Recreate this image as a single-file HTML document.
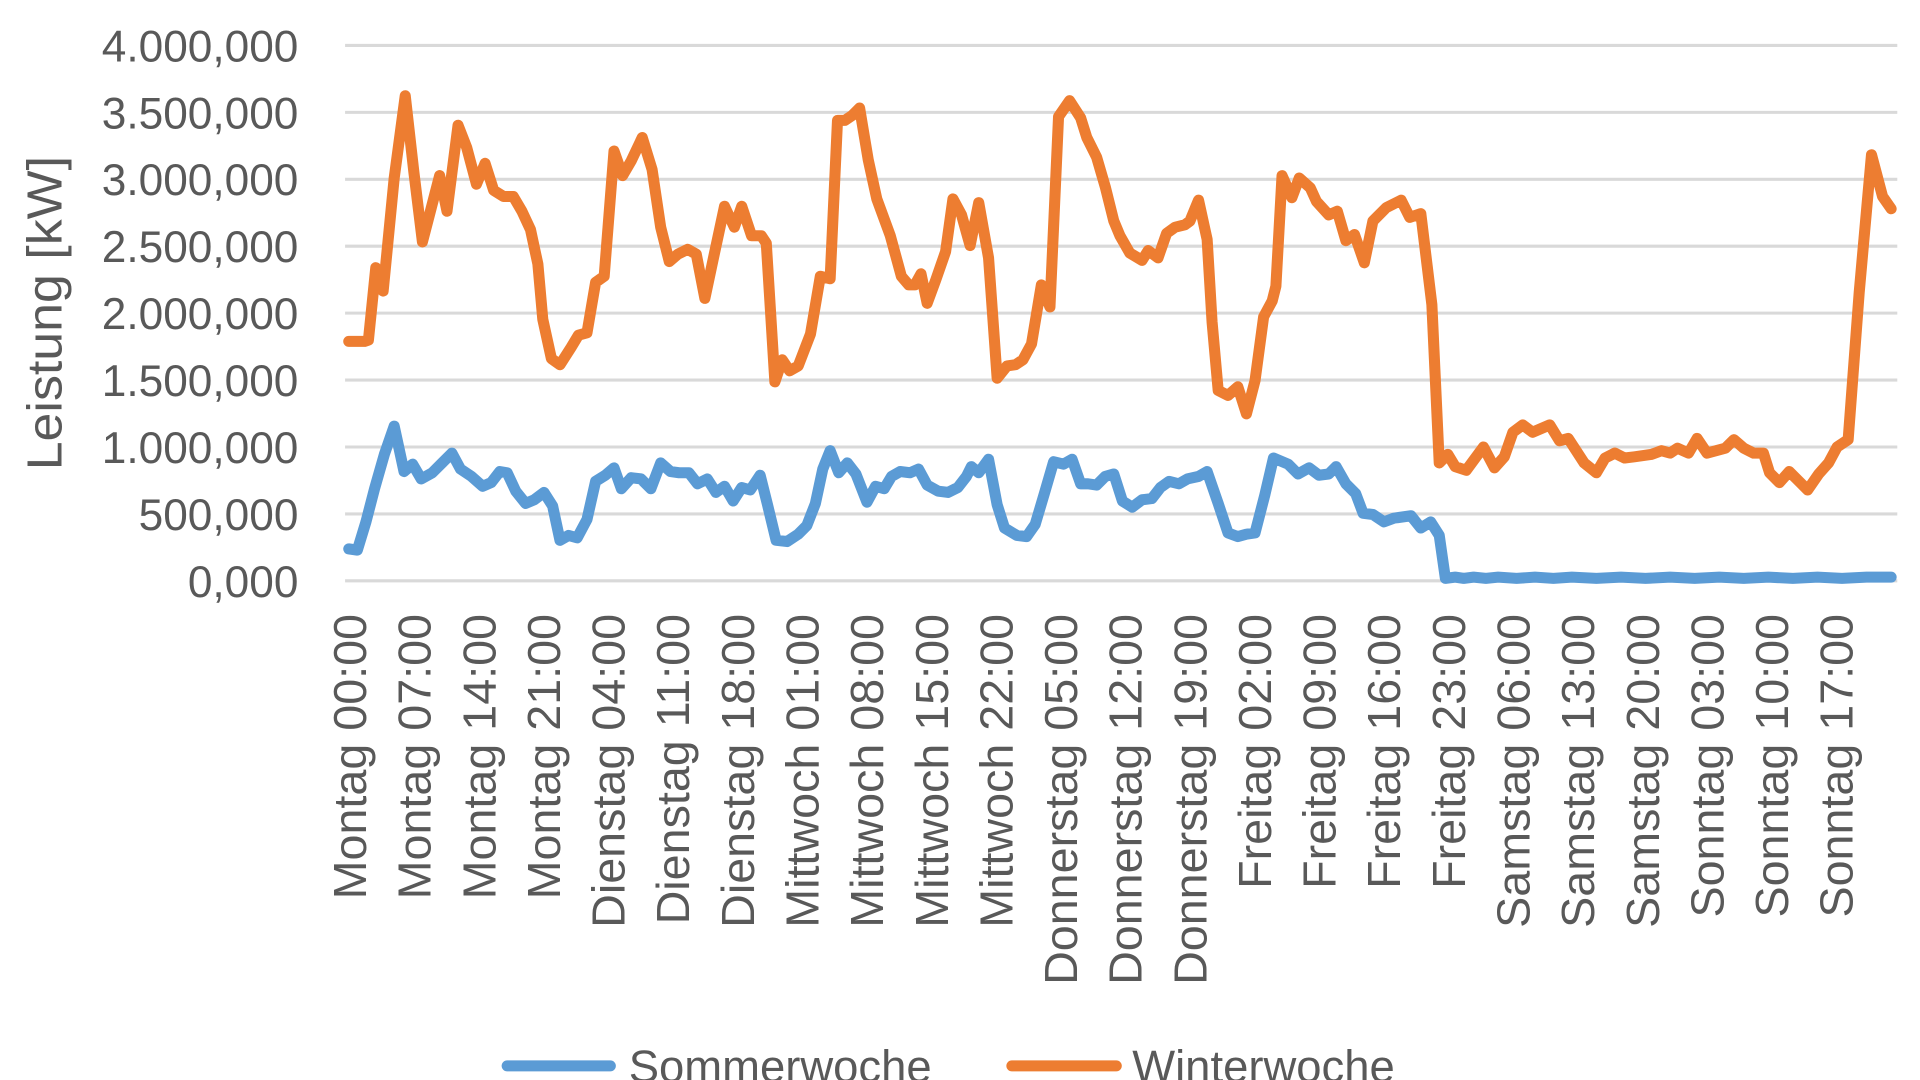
<!DOCTYPE html>
<html><head><meta charset="utf-8"><style>
html,body{margin:0;padding:0;background:#fff;width:1920px;height:1080px;overflow:hidden}
svg{display:block}
text{font-family:"Liberation Sans",sans-serif;fill:#595959}
</style></head><body>
<svg width="1920" height="1080" viewBox="0 0 1563.5 879.5" preserveAspectRatio="none" xmlns="http://www.w3.org/2000/svg">
<g stroke="#d9d9d9" stroke-width="2.5">
<line x1="281" x2="1545" y1="37" y2="37"/><line x1="281" x2="1545" y1="91.5" y2="91.5"/>
<line x1="281" x2="1545" y1="146" y2="146"/><line x1="281" x2="1545" y1="200.5" y2="200.5"/>
<line x1="281" x2="1545" y1="255" y2="255"/><line x1="281" x2="1545" y1="309.5" y2="309.5"/>
<line x1="281" x2="1545" y1="364" y2="364"/><line x1="281" x2="1545" y1="418.5" y2="418.5"/>
<line x1="281" x2="1545" y1="473" y2="473"/>
</g>
<g font-size="36" text-anchor="end">
<text x="243" y="50">4.000,000</text><text x="243" y="104.5">3.500,000</text>
<text x="243" y="159">3.000,000</text><text x="243" y="213.5">2.500,000</text>
<text x="243" y="268">2.000,000</text><text x="243" y="322.5">1.500,000</text>
<text x="243" y="377">1.000,000</text><text x="243" y="431.5">500,000</text>
<text x="243" y="486">0,000</text>
</g>
<text transform="translate(50,255) rotate(-90)" font-size="40" text-anchor="middle" textLength="256" lengthAdjust="spacingAndGlyphs">Leistung [kW]</text>
<g font-size="38" text-anchor="end">
<text transform="translate(298,500) rotate(-90)">Montag 00:00</text>
<text transform="translate(350.6,500) rotate(-90)">Montag 07:00</text>
<text transform="translate(403.3,500) rotate(-90)">Montag 14:00</text>
<text transform="translate(455.9,500) rotate(-90)">Montag 21:00</text>
<text transform="translate(508.6,500) rotate(-90)">Dienstag 04:00</text>
<text transform="translate(561.2,500) rotate(-90)">Dienstag 11:00</text>
<text transform="translate(613.8,500) rotate(-90)">Dienstag 18:00</text>
<text transform="translate(666.5,500) rotate(-90)">Mittwoch 01:00</text>
<text transform="translate(719.1,500) rotate(-90)">Mittwoch 08:00</text>
<text transform="translate(771.8,500) rotate(-90)">Mittwoch 15:00</text>
<text transform="translate(824.4,500) rotate(-90)">Mittwoch 22:00</text>
<text transform="translate(877,500) rotate(-90)">Donnerstag 05:00</text>
<text transform="translate(929.7,500) rotate(-90)">Donnerstag 12:00</text>
<text transform="translate(982.3,500) rotate(-90)">Donnerstag 19:00</text>
<text transform="translate(1035,500) rotate(-90)">Freitag 02:00</text>
<text transform="translate(1087.6,500) rotate(-90)">Freitag 09:00</text>
<text transform="translate(1140.2,500) rotate(-90)">Freitag 16:00</text>
<text transform="translate(1192.9,500) rotate(-90)">Freitag 23:00</text>
<text transform="translate(1245.5,500) rotate(-90)">Samstag 06:00</text>
<text transform="translate(1298.2,500) rotate(-90)">Samstag 13:00</text>
<text transform="translate(1350.8,500) rotate(-90)">Samstag 20:00</text>
<text transform="translate(1403.4,500) rotate(-90)">Sonntag 03:00</text>
<text transform="translate(1456.1,500) rotate(-90)">Sonntag 10:00</text>
<text transform="translate(1508.7,500) rotate(-90)">Sonntag 17:00</text>
</g>
<g fill="none" stroke-width="9" stroke-linejoin="round" stroke-linecap="round">
<polyline stroke="#ed7d31" points="284,278 297,278 300,277 306,218 312,237 321,145 330,78 337,140 344,197 351,170 358,143 364,172 373,102 380,120 388,150 395,133 402,155 410,160 418,160 425,172 432,187 438,215 442,260 449,292 456,297 465,283 471,273 478,271 485,230 492,225 500,123 507,143 514,131 523,112 531,138 538,185 545,213 552,207 560,203 567,207 574,243 581,210 590,168 598,185 604,168 612,192 620,192 624,198 631,311 637,293 643,302 650,298 660,272 668,225 676,227 682,98 688,98 694,94 700,88 707,130 714,162 725,192 734,225 740,232 745,232 750,223 755,247 762,228 770,205 776,162 783,175 790,200 797,165 805,210 812,308 820,298 827,297 833,293 840,280 848,232 855,250 862,95 871,82 880,96 885,112 893,128 900,152 907,180 912,192 920,206 930,212 935,204 943,210 950,190 957,185 965,183 969,180 976,163 983,195 987,262 992,318 1000,322 1008,315 1015,337 1022,310 1029,258 1036,245 1039,233 1044,143 1052,161 1058,145 1067,153 1072,164 1082,175 1089,172 1096,196 1103,191 1111,214 1118,180 1129,169 1141,163 1148,177 1157,174 1166,248 1172,377 1179,370 1185,380 1194,383 1208,364 1217,381 1225,372 1232,352 1240,346 1248,352 1262,346 1270,359 1277,357 1290,377 1300,385 1307,373 1315,369 1323,373 1331,372 1345,370 1353,367 1360,369 1366,365 1375,369 1382,357 1390,369 1405,365 1412,358 1420,365 1428,369 1436,369 1441,385 1449,393 1457,384 1464,391 1472,399 1481,386 1489,377 1496,364 1505,358 1514,238 1524,126 1533,160 1540,170"/>
<polyline stroke="#5b9bd5" points="284,447 291,448 298,425 305,398 313,370 321,347 329,384 336,378 343,390 352,385 360,377 368,369 375,382 384,388 393,396 400,393 407,384 413,385 420,400 428,410 435,407 443,401 450,412 456,440 463,436 470,438 478,423 485,392 493,387 500,381 506,398 514,389 522,390 530,398 538,377 546,384 553,385 561,385 568,394 576,390 583,401 590,396 597,408 604,397 611,399 619,387 625,411 632,440 641,441 650,435 657,428 664,410 670,382 676,367 683,385 690,377 697,386 706,409 713,396 720,398 726,388 733,384 741,385 748,382 755,395 764,400 772,401 780,397 787,388 791,380 797,385 805,374 812,411 818,430 828,436 836,437 843,427 851,400 858,376 866,378 873,374 880,394 886,394 893,395 900,388 907,386 914,408 922,413 930,407 938,406 945,397 952,392 960,394 967,390 976,388 983,384 992,410 1000,434 1008,437 1015,435 1022,434 1030,403 1037,373 1049,378 1057,386 1066,381 1074,387 1082,386 1088,380 1096,394 1104,402 1110,418 1118,419 1127,425 1135,422 1149,420 1157,430 1165,425 1172,436 1177,471 1185,470 1192,471 1200,470 1210,471 1220,470 1235,471 1250,470 1265,471 1280,470 1300,471 1320,470 1340,471 1360,470 1380,471 1400,470 1420,471 1440,470 1460,471 1480,470 1500,471 1520,470 1540,470"/>
</g>
<line x1="413" x2="497" y1="868" y2="868" stroke="#5b9bd5" stroke-width="9" stroke-linecap="round"/>
<text x="512" y="881" font-size="37">Sommerwoche</text>
<line x1="824" x2="909" y1="868" y2="868" stroke="#ed7d31" stroke-width="9" stroke-linecap="round"/>
<text x="922" y="881" font-size="37">Winterwoche</text>
</svg>
</body></html>
